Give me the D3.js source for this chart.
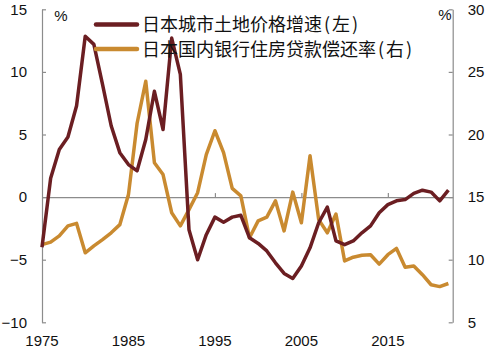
<!DOCTYPE html>
<html>
<head>
<meta charset="utf-8">
<script src="https://cdn.jsdelivr.net/npm/d3@7"></script>
<style>
  body { margin: 0; background: #fff; }
  text { font-family: "Liberation Sans", Arial, sans-serif; }
  .cjk { font-family: "Noto Sans CJK SC", sans-serif; }
</style>
</head>
<body>
<div id="chart"></div>
<script>
// --------------- Data ---------------
const years = d3.range(1975, 2023);
// 日本城市土地价格增速 (left axis, %)
const landPrice = [
  -4.0, 1.5, 3.8, 4.8, 7.3, 12.85, 12.2, 9.0, 5.7, 3.55,
  2.6, 2.1, 4.6, 8.45, 5.4, 12.7, 9.8, -2.6, -5.0, -3.0,
  -1.6, -2.0, -1.6, -1.45, -3.25, -3.7, -4.3, -5.25, -6.1, -6.5,
  -5.5, -4.05, -2.05, -0.8, -3.5, -3.8, -3.5, -2.85, -2.3, -1.25,
  -0.6, -0.3, -0.2, 0.3, 0.55, 0.4, -0.3, 0.55
];
// 日本国内银行住房贷款偿还率 (right axis, %)
const repayRate = [
  11.2, 11.4, 11.9, 12.7, 12.9, 10.55, 11.1, 11.6, 12.15, 12.8,
  15.2, 20.9, 24.25, 17.75, 16.8, 13.75, 12.7, 14.0, 15.35, 18.4,
  20.3, 18.55, 15.7, 15.1, 11.75, 13.1, 13.4, 14.7, 12.3, 15.4,
  12.95, 18.3, 13.2, 12.15, 13.65, 9.9, 10.2, 10.35, 10.4, 9.65,
  10.4, 10.9, 9.4, 9.5, 8.8, 8.0, 7.85, 8.1
];
const xTicks = [1975, 1985, 1995, 2005, 2015];
const leftTicks = [-10, -5, 0, 5, 10, 15];
const rightTicks = [5, 10, 15, 20, 25, 30];
const seriesNames = ["日本城市土地价格增速", "日本国内银行住房贷款偿还率"];
const seriesSides = ["左", "右"];

// --------------- Constants ---------------
const WIDTH = 486;
const HEIGHT = 352;
const PLOT = { left: 42, right: 452.7, top: 9.3, bottom: 322.3 };
const AXIS_COLOR = "#8c8c8c";
const LAND_COLOR = "#6b1e22";
const RATE_COLOR = "#c98a30";

const svg = d3.select("#chart")
  .append("svg")
  .attr("width", WIDTH)
  .attr("height", HEIGHT);

const x = d3.scaleLinear().domain([1975, 2022.5]).range([PLOT.left, PLOT.right]);
const yLeft = d3.scaleLinear().domain([-10, 15]).range([PLOT.bottom, PLOT.top]);
const yRight = d3.scaleLinear().domain([5, 30]).range([PLOT.bottom, PLOT.top]);

// --------------- Axes ---------------
const leftAxis = svg.append("g")
  .attr("transform", `translate(${PLOT.left},0)`)
  .call(d3.axisLeft(yLeft).tickValues(leftTicks).tickSizeInner(-4).tickSizeOuter(0).tickPadding(15));

const rightAxis = svg.append("g")
  .attr("transform", `translate(${PLOT.right},0)`)
  .call(d3.axisRight(yRight).tickValues(rightTicks).tickSizeInner(-4).tickSizeOuter(0).tickPadding(15));

// zero line carries the year ticks; labels sit at the bottom
const zeroAxis = svg.append("g")
  .attr("transform", `translate(0,${yLeft(0)})`)
  .call(d3.axisTop(x).tickValues(xTicks).tickFormat("").tickSizeInner(4).tickSizeOuter(0));
zeroAxis.selectAll(".tick").filter((d) => d === 1975).remove();

svg.append("g")
  .selectAll("text")
  .data(xTicks)
  .enter()
  .append("text")
  .attr("x", (d) => x(d))
  .attr("y", 346)
  .attr("text-anchor", "middle")
  .attr("font-size", 15)
  .attr("fill", "#111")
  .text((d) => d);

[leftAxis, rightAxis, zeroAxis].forEach((a) => {
  a.selectAll("path, line").attr("stroke", AXIS_COLOR).attr("stroke-width", 1.2);
  a.selectAll("text")
    .attr("font-size", 15)
    .attr("fill", "#111")
    .style("font-family", '"Liberation Sans", Arial, sans-serif');
});

svg.append("text").attr("x", 61).attr("y", 21).attr("text-anchor", "middle")
  .attr("font-size", 15).attr("fill", "#111").text("%");
svg.append("text").attr("x", 445).attr("y", 20).attr("text-anchor", "middle")
  .attr("font-size", 15).attr("fill", "#111").text("%");

// --------------- Lines ---------------
const landLine = d3.line()
  .x((d, i) => x(years[i]))
  .y((d) => yLeft(d));

const rateLine = d3.line()
  .x((d, i) => x(years[i]))
  .y((d) => yRight(d));

svg.append("path")
  .datum(repayRate)
  .attr("d", rateLine)
  .attr("fill", "none")
  .attr("stroke", RATE_COLOR)
  .attr("stroke-width", 3.5)
  .attr("stroke-linejoin", "round");

svg.append("path")
  .datum(landPrice)
  .attr("d", landLine)
  .attr("fill", "none")
  .attr("stroke", LAND_COLOR)
  .attr("stroke-width", 3.5)
  .attr("stroke-linejoin", "round");

// --------------- Legend ---------------
const legend = svg.append("g")
  .selectAll("g")
  .data(seriesNames)
  .enter()
  .append("g")
  .attr("transform", (d, i) => `translate(0,${24.5 + i * 24.5})`);

legend.append("line")
  .attr("x1", 96).attr("x2", 137)
  .attr("stroke", (d, i) => (i === 0 ? LAND_COLOR : RATE_COLOR))
  .attr("stroke-width", 4.5)
  .attr("stroke-linecap", "round");

const legendText = legend.append("text")
  .attr("class", "cjk")
  .attr("x", 142)
  .attr("y", 6.5)
  .attr("font-size", 18)
  .attr("fill", "#111")
  .text((d) => d);

legendText.append("tspan")
  .attr("dx", 2)
  .attr("letter-spacing", 2)
  .text((d, i) => `(${seriesSides[i]})`);
</script>
</body>
</html>
